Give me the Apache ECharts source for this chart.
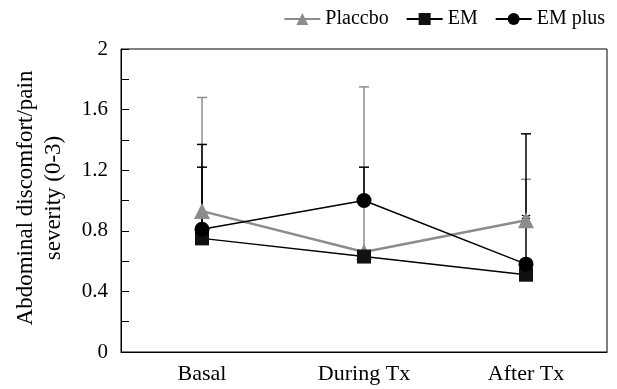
<!DOCTYPE html>
<html>
<head>
<meta charset="utf-8">
<script src="https://cdn.jsdelivr.net/npm/echarts@6/dist/echarts.min.js"></script>
<style>
  html, body { margin: 0; padding: 0; background: #fff; }
  #chart { width: 617px; height: 389px; }
</style>
</head>
<body>
<div id="chart"></div>
<script>
  // 数据
  var categories = ['Basal', 'During Tx', 'After Tx']
  var placeboMean = [0.93, 0.66, 0.87]
  var placeboUpper = [1.68, 1.75, 1.14]
  var emMean = [0.75, 0.63, 0.51]
  var emUpper = [1.22, null, null]
  var emPlusMean = [0.81, 1.0, 0.58]
  var emPlusUpper = [1.37, 1.22, 1.44]
  var starPos = [1.53, 0.86]

  var FONT = 'Liberation Serif'
  var GRAY = '#8c8c8c'

  function errData(mean, upper) {
    var out = []
    for (var i = 0; i < mean.length; i++) {
      if (upper[i] != null) out.push([i, mean[i], upper[i]])
    }
    return out
  }

  function errSeries(name, mean, upper, color) {
    return {
      name: name + ' err',
      type: 'custom',
      z: 1,
      silent: true,
      renderItem: function(params, api) {
        var base = api.coord([api.value(0), api.value(1)])
        var top = api.coord([api.value(0), api.value(2)])
        var w = 5
        return {
          type: 'group',
          children: [
            { type: 'line', shape: { x1: base[0], y1: base[1], x2: top[0], y2: top[1] }, style: { stroke: color, lineWidth: 1.5 } },
            { type: 'line', shape: { x1: top[0] - w, y1: top[1], x2: top[0] + w, y2: top[1] }, style: { stroke: color, lineWidth: 1.5 } }
          ]
        }
      },
      encode: { x: 0, y: [1, 2] },
      data: errData(mean, upper)
    }
  }

  var myChart = echarts.init(document.getElementById('chart'))
  var option = {
    backgroundColor: '#fff',
    animation: false,
    textStyle: { fontFamily: FONT, color: '#000' },
    grid: {
      left: 121, right: 10, top: 49, bottom: 37,
      show: true, borderColor: '#000', borderWidth: 1
    },
    legend: {
      right: 7,
      top: 4,
      itemWidth: 36,
      itemHeight: 15,
      itemGap: 17,
      textStyle: { fontFamily: FONT, fontSize: 20, color: '#000' },
      data: ['Placcbo', 'EM', 'EM plus']
    },
    xAxis: {
      type: 'category',
      data: categories,
      boundaryGap: true,
      axisLine: { lineStyle: { color: '#000', width: 1 } },
      axisTick: { inside: true, length: 7, lineStyle: { color: '#000' } },
      axisLabel: { fontFamily: FONT, fontSize: 22, color: '#000', margin: 11 },
      splitLine: { show: false }
    },
    yAxis: {
      type: 'value',
      min: 0,
      max: 2,
      interval: 0.2,
      axisLine: { show: true, lineStyle: { color: '#000', width: 1 } },
      axisTick: { show: true, inside: true, length: 8, lineStyle: { color: '#000' } },
      axisLabel: {
        fontFamily: FONT, fontSize: 21, color: '#000', margin: 13,
        formatter: function(v) {
          var k = Math.round(v * 10)
          if (k % 4 !== 0) return ''
          return String(k / 10)
        }
      },
      splitLine: { show: false }
    },
    graphic: [{
      type: 'text',
      x: 40,
      y: 198,
      rotation: Math.PI / 2,
      style: {
        text: 'Abdominal discomfort/pain\nseverity (0-3)',
        font: '23px "Liberation Serif"',
        fill: '#000',
        align: 'center',
        verticalAlign: 'middle',
        lineHeight: 28
      }
    }],
    series: [
      errSeries('Placcbo', placeboMean, placeboUpper, GRAY),
      errSeries('EM', emMean, emUpper, '#000'),
      errSeries('EM plus', emPlusMean, emPlusUpper, '#000'),
      {
        name: 'Placcbo',
        type: 'line',
        z: 3,
        symbol: 'triangle',
        symbolSize: 16,
        lineStyle: { color: GRAY, width: 2.5 },
        itemStyle: { color: GRAY },
        data: placeboMean
      },
      {
        name: 'EM',
        type: 'line',
        z: 4,
        symbol: 'rect',
        symbolSize: 14,
        lineStyle: { color: '#000', width: 1.5 },
        itemStyle: { color: '#111' },
        data: emMean
      },
      {
        name: 'EM plus',
        type: 'line',
        z: 5,
        symbol: 'circle',
        symbolSize: 15,
        lineStyle: { color: '#000', width: 1.5 },
        itemStyle: { color: '#000' },
        data: emPlusMean
      }
    ]
  }
  myChart.setOption(option)

  // 星号标注
  var p = myChart.convertToPixel({ gridIndex: 0 }, starPos)
  option.graphic.push({
    type: 'text',
    x: p[0],
    y: p[1],
    style: { text: '*', font: '22px "Liberation Serif"', fill: '#000', align: 'center', verticalAlign: 'middle' }
  })
  myChart.setOption({ graphic: option.graphic })
</script>
</body>
</html>
